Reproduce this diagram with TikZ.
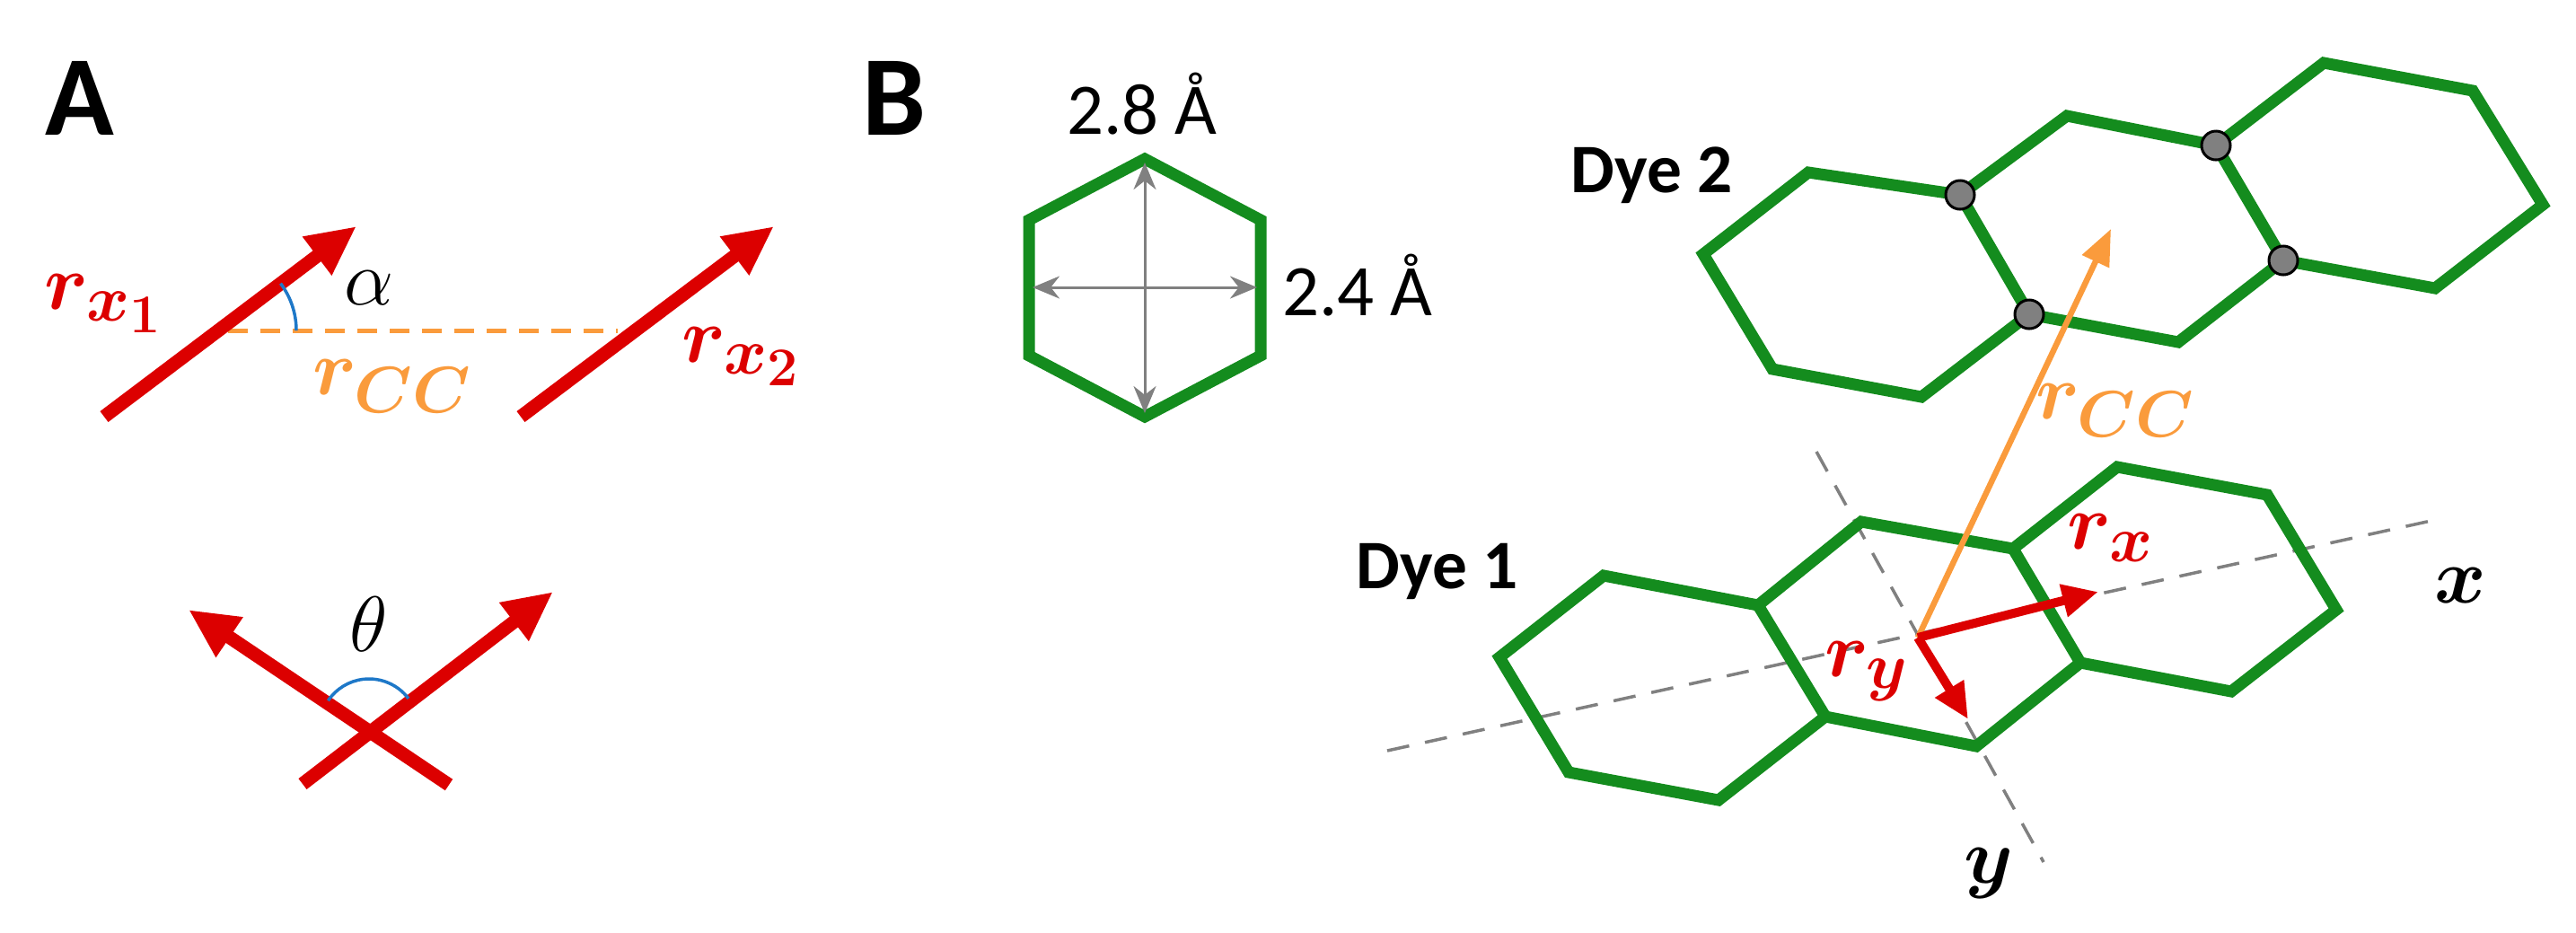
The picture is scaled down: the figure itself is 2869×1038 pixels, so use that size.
\documentclass[tikz,border=0pt]{standalone}
\usepackage{fontspec}
\setmainfont{Carlito}
\usepackage{bm}
\usetikzlibrary{arrows.meta,calc}
\definecolor{myred}{RGB}{220,0,0}
\definecolor{mygreen}{RGB}{20,140,30}
\definecolor{myorange}{RGB}{250,155,60}
\definecolor{myblue}{RGB}{30,120,200}
\tikzset{
 redarrow/.style={myred,line width=0.15cm,-{Triangle[length=0.55cm,width=0.5cm]}},
 hexline/.style={mygreen,line width=0.13cm,line join=miter},
 axisline/.style={gray,line width=0.035cm,dash pattern=on 0.25cm off 0.18cm},
 dot/.style={circle,fill=gray,draw=black,line width=0.03cm,minimum size=0.32cm,inner sep=0pt},
 lab/.style={font=\fontsize{32}{36}\selectfont},
 panel/.style={font=\fontsize{36}{40}\selectfont\bfseries},
 dye/.style={font=\fontsize{22}{26}\selectfont\bfseries},
 dim/.style={font=\fontsize{23}{27}\selectfont},
 anglearc/.style={myblue,line width=0.035cm},
}
\begin{document}
\begin{tikzpicture}[x=0.01cm,y=-0.01cm]
\useasboundingbox (0,0) rectangle (2869,1038);
% Panel A
\node[panel] (pa) at (89,109) {A};
\coordinate (a1) at (116,464); \coordinate (a1t) at (397,252);
\coordinate (a2) at (580,464); \coordinate (a2t) at (862,252);
\coordinate (d1) at (254,368); \coordinate (d2) at (688,368);
\draw[myorange,line width=0.05cm,dash pattern=on 0.22cm off 0.14cm] (d1) -- (d2);
\draw[redarrow] (a1) -- (a1t);
\draw[redarrow] (a2) -- (a2t);
\coordinate (ac) at (243,368);
\draw[anglearc] ($(ac)+(0:87)$) arc[start angle=0,end angle=-37,radius=87];
\node[lab] (alpha) at (411,321) {$\alpha$};
\node[lab,myred] (rx1) at (116,338) {$\bm{r_{x_1}}$};
\node[lab,myorange] (rcc1) at (437,430) {$\bm{r_{CC}}$};
\node[lab,myred] (rx2) at (826,397) {$\bm{r_{x_2}}$};
% cross
\coordinate (c0) at (411,811);
\draw[redarrow] (500,874) -- (210,679);
\draw[redarrow] (337,873) -- (616,659);
\draw[anglearc] ($(c0)+(-37:55)$) arc[start angle=-37,end angle=-146,radius=55];
\node[lab] (theta) at (411,695) {$\theta$};
% Panel B
\node[panel] (pb) at (996,109) {B};
\node[dim] (d28) at (1272,116) {2.8 Å};
\node[dim] (d24) at (1512,318) {2.4 Å};
\draw[hexline] (1275,177) -- (1404,245) -- (1404,396) -- (1275,464) -- (1146,396) -- (1146,245) -- cycle;
\draw[gray,line width=0.03cm,{Stealth[length=0.3cm,width=0.25cm]}-{Stealth[length=0.3cm,width=0.25cm]}] (1275,181) -- (1275,460);
\draw[gray,line width=0.03cm,{Stealth[length=0.3cm,width=0.25cm]}-{Stealth[length=0.3cm,width=0.25cm]}] (1150,320) -- (1400,320);
% Dye 2
\node[dye] (dye2) at (1840,195) {Dye 2};
\draw[hexline] (1897,283) -- (2014,192) -- (2183,217) -- (2260,350) -- (2140,442) -- (1974,411) -- cycle;
\draw[hexline] (2183,217) -- (2302,129) -- (2468,162) -- (2543,290) -- (2426,381) -- (2260,350);
\draw[hexline] (2468,162) -- (2588,70) -- (2754,101) -- (2832,228) -- (2712,321) -- (2543,290);
% Dye 1
\draw[axisline] (1545,836) -- (2721,577);
\draw[axisline] (2023,503) -- (2276,960);
\node[dye] (dye1) at (1601,636) {Dye 1};
\draw[hexline] (1670,732) -- (1786,641) -- (1958,674) -- (2033,798) -- (1914,891) -- (1747,860) -- cycle;
\draw[hexline] (1958,674) -- (2073,581) -- (2242,611) -- (2317,738) -- (2201,831) -- (2033,798);
\draw[hexline] (2242,611) -- (2358,520) -- (2525,551) -- (2602,679) -- (2485,770) -- (2317,738);
\coordinate (o) at (2136,710);
\coordinate (rcct) at (2351,255);
\draw[myorange,line width=0.065cm,-{Triangle[length=0.4cm,width=0.32cm]}] (o) -- (rcct);
\draw[myred,line width=0.1cm,-{Triangle[length=0.4cm,width=0.35cm]}] (o) -- (2337,659);
\draw[myred,line width=0.1cm,-{Triangle[length=0.4cm,width=0.35cm]}] (o) -- (2192,801);
\node[dot] (g1) at (2183,217) {};
\node[dot] (g2) at (2260,350) {};
\node[dot] (g3) at (2468,162) {};
\node[dot] (g4) at (2543,290) {};
\node[lab,myorange] (rcc2) at (2356,457) {$\bm{r_{CC}}$};
\node[lab,myred] (rx) at (2351,599) {$\bm{r_{x}}$};
\node[lab,myred] (ry) at (2079,748) {$\bm{r_{y}}$};
\node[lab] (xl) at (2740,652) {$\bm{x}$};
\node[lab] (yl) at (2215,973) {$\bm{y}$};
\end{tikzpicture}
\end{document}
